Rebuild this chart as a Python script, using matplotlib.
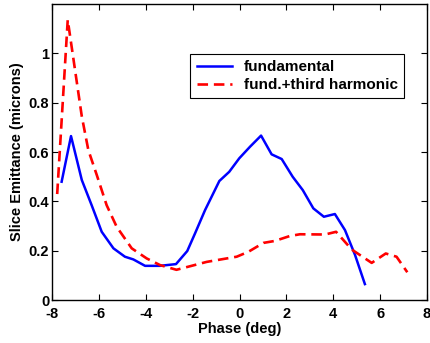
import matplotlib
matplotlib.use("Agg")
import matplotlib.pyplot as plt
from matplotlib.ticker import FormatStrFormatter

# fundamental
fund_phase = [-7.59, -7.19, -6.73, -6.31, -5.88, -5.38, -4.89, -4.53, -4.03,
              -3.40, -2.71, -2.23, -1.90, -1.47, -0.86, -0.44, -0.01, 0.45,
              0.92, 1.37, 1.80, 2.27, 2.70, 3.15, 3.60, 4.07, 4.50, 4.93, 5.35]
fund_emit = [0.48, 0.665, 0.487, 0.385, 0.277, 0.21, 0.176, 0.165, 0.139,
             0.139, 0.146, 0.199, 0.27, 0.365, 0.483, 0.52, 0.575, 0.622,
             0.667, 0.591, 0.572, 0.50, 0.446, 0.372, 0.338, 0.349, 0.284,
             0.183, 0.065]

# fundamental + third harmonic
harm_phase = [-7.78, -7.33, -6.73, -6.45, -6.09, -5.67, -5.24, -4.60, -3.96,
              -3.39, -2.69, -1.40, -0.12, 0.38, 1.02, 1.51, 2.15, 2.58, 3.65,
              4.12, 4.79, 5.64, 6.24, 6.70, 7.16]
harm_emit = [0.43, 1.136, 0.745, 0.608, 0.507, 0.385, 0.297, 0.21, 0.169,
             0.142, 0.123, 0.155, 0.176, 0.196, 0.232, 0.24, 0.26, 0.267, 0.266,
             0.277, 0.205, 0.151, 0.189, 0.176, 0.113]

plt.rcParams['font.family'] = ['Liberation Sans', 'DejaVu Sans']
plt.rcParams['font.weight'] = 'bold'
plt.rcParams['font.size'] = 10.5
plt.rcParams['axes.unicode_minus'] = False

fig = plt.figure(figsize=(4.3, 3.43), dpi=100)
ax = fig.add_axes([0.121, 0.125, 0.872, 0.863])

ax.plot(fund_phase, fund_emit, color='#0000ff', lw=1.8, label='fundamental')
ax.plot(harm_phase, harm_emit, color='#ff0000', lw=1.9, dashes=(4, 2.2),
        label='fund.+third harmonic')

ax.set_xlim(-8, 8)
ax.set_ylim(0, 1.2)
ax.set_xticks(range(-8, 9, 2))
ax.set_yticks([0, 0.2, 0.4, 0.6, 0.8, 1.0])
ax.yaxis.set_major_formatter(FormatStrFormatter('%g'))
ax.tick_params(direction='in', top=True, right=True, length=4, width=0.8,
               labelsize=10.5)
ax.tick_params(axis='x', pad=5)
ax.tick_params(axis='y', pad=2)
for s in ax.spines.values():
    s.set_linewidth(1.0)

ax.set_xlabel('Phase (deg)', fontweight='bold', labelpad=1)
ax.set_ylabel('Slice Emittance (microns)', fontweight='bold', labelpad=3)

leg = ax.legend(loc='upper right', bbox_to_anchor=(404 / 430, 1 - 54 / 343),
                bbox_transform=fig.transFigure, fancybox=False,
                edgecolor='black', framealpha=1, handlelength=2.3,
                borderpad=0.4, labelspacing=0.25, handletextpad=0.8,
                borderaxespad=0, fontsize=11)
leg.get_frame().set_linewidth(0.8)

fig.savefig('out.png', dpi=100)
